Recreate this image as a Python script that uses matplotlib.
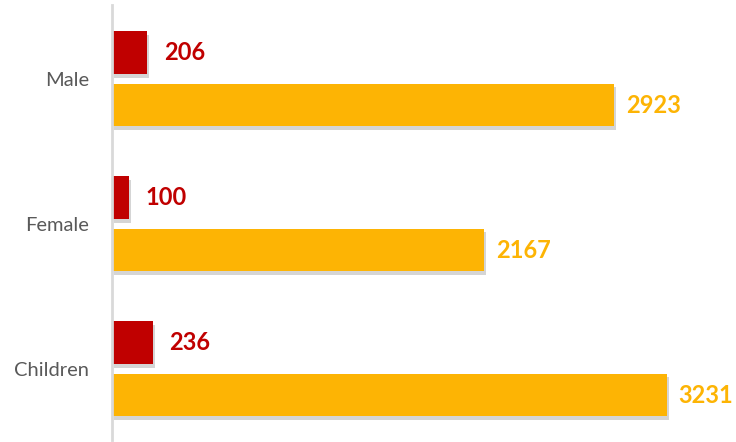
import matplotlib
matplotlib.use("Agg")
import matplotlib.pyplot as plt
import matplotlib.patheffects as pe
import numpy as np

categories = ["Male", "Female", "Children"]
red_vals = [206, 100, 236]
orange_vals = [2923, 2167, 3231]

RED, ORANGE, GREY = "#C00000", "#FDB404", "#595959"

fig = plt.figure(figsize=(7.36, 4.42), dpi=100)
ax = fig.add_axes([112 / 736, 2 / 442, 618 / 736, 435 / 442])

y = np.arange(len(categories))
h = 0.295
off = 0.18
shadow = [pe.SimplePatchShadow(offset=(1.5, -2.5), alpha=0.22, shadow_rgbFace="#444444"),
          pe.Normal()]

rb = ax.barh(y - off, red_vals, height=h, color=RED)
ob = ax.barh(y + off, orange_vals, height=h, color=ORANGE)
for b in list(rb) + list(ob):
    b.set_path_effects(shadow)

for yi, v in zip(y - off, red_vals):
    ax.text(v + 95, yi, str(v), va="center", ha="left", color=RED,
            fontsize=17, fontweight="bold", family="Lato", clip_on=False)
for yi, v in zip(y + off, orange_vals):
    ax.text(v + 70, yi, str(v), va="center", ha="left", color=ORANGE,
            fontsize=17, fontweight="bold", family="Lato", clip_on=False)

ax.set_xlim(0, 3600)
ax.set_ylim(2.49, -0.51)
ax.set_yticks(y)
ax.set_yticklabels(categories, fontsize=14.5, color=GREY, family="Lato")
ax.tick_params(axis="y", length=0, pad=16.5)
ax.set_xticks([])
for s in ["top", "right", "bottom"]:
    ax.spines[s].set_visible(False)
ax.spines["left"].set_color("#D9D9D9")
ax.spines["left"].set_linewidth(2)

fig.savefig("out.png", dpi=100)
